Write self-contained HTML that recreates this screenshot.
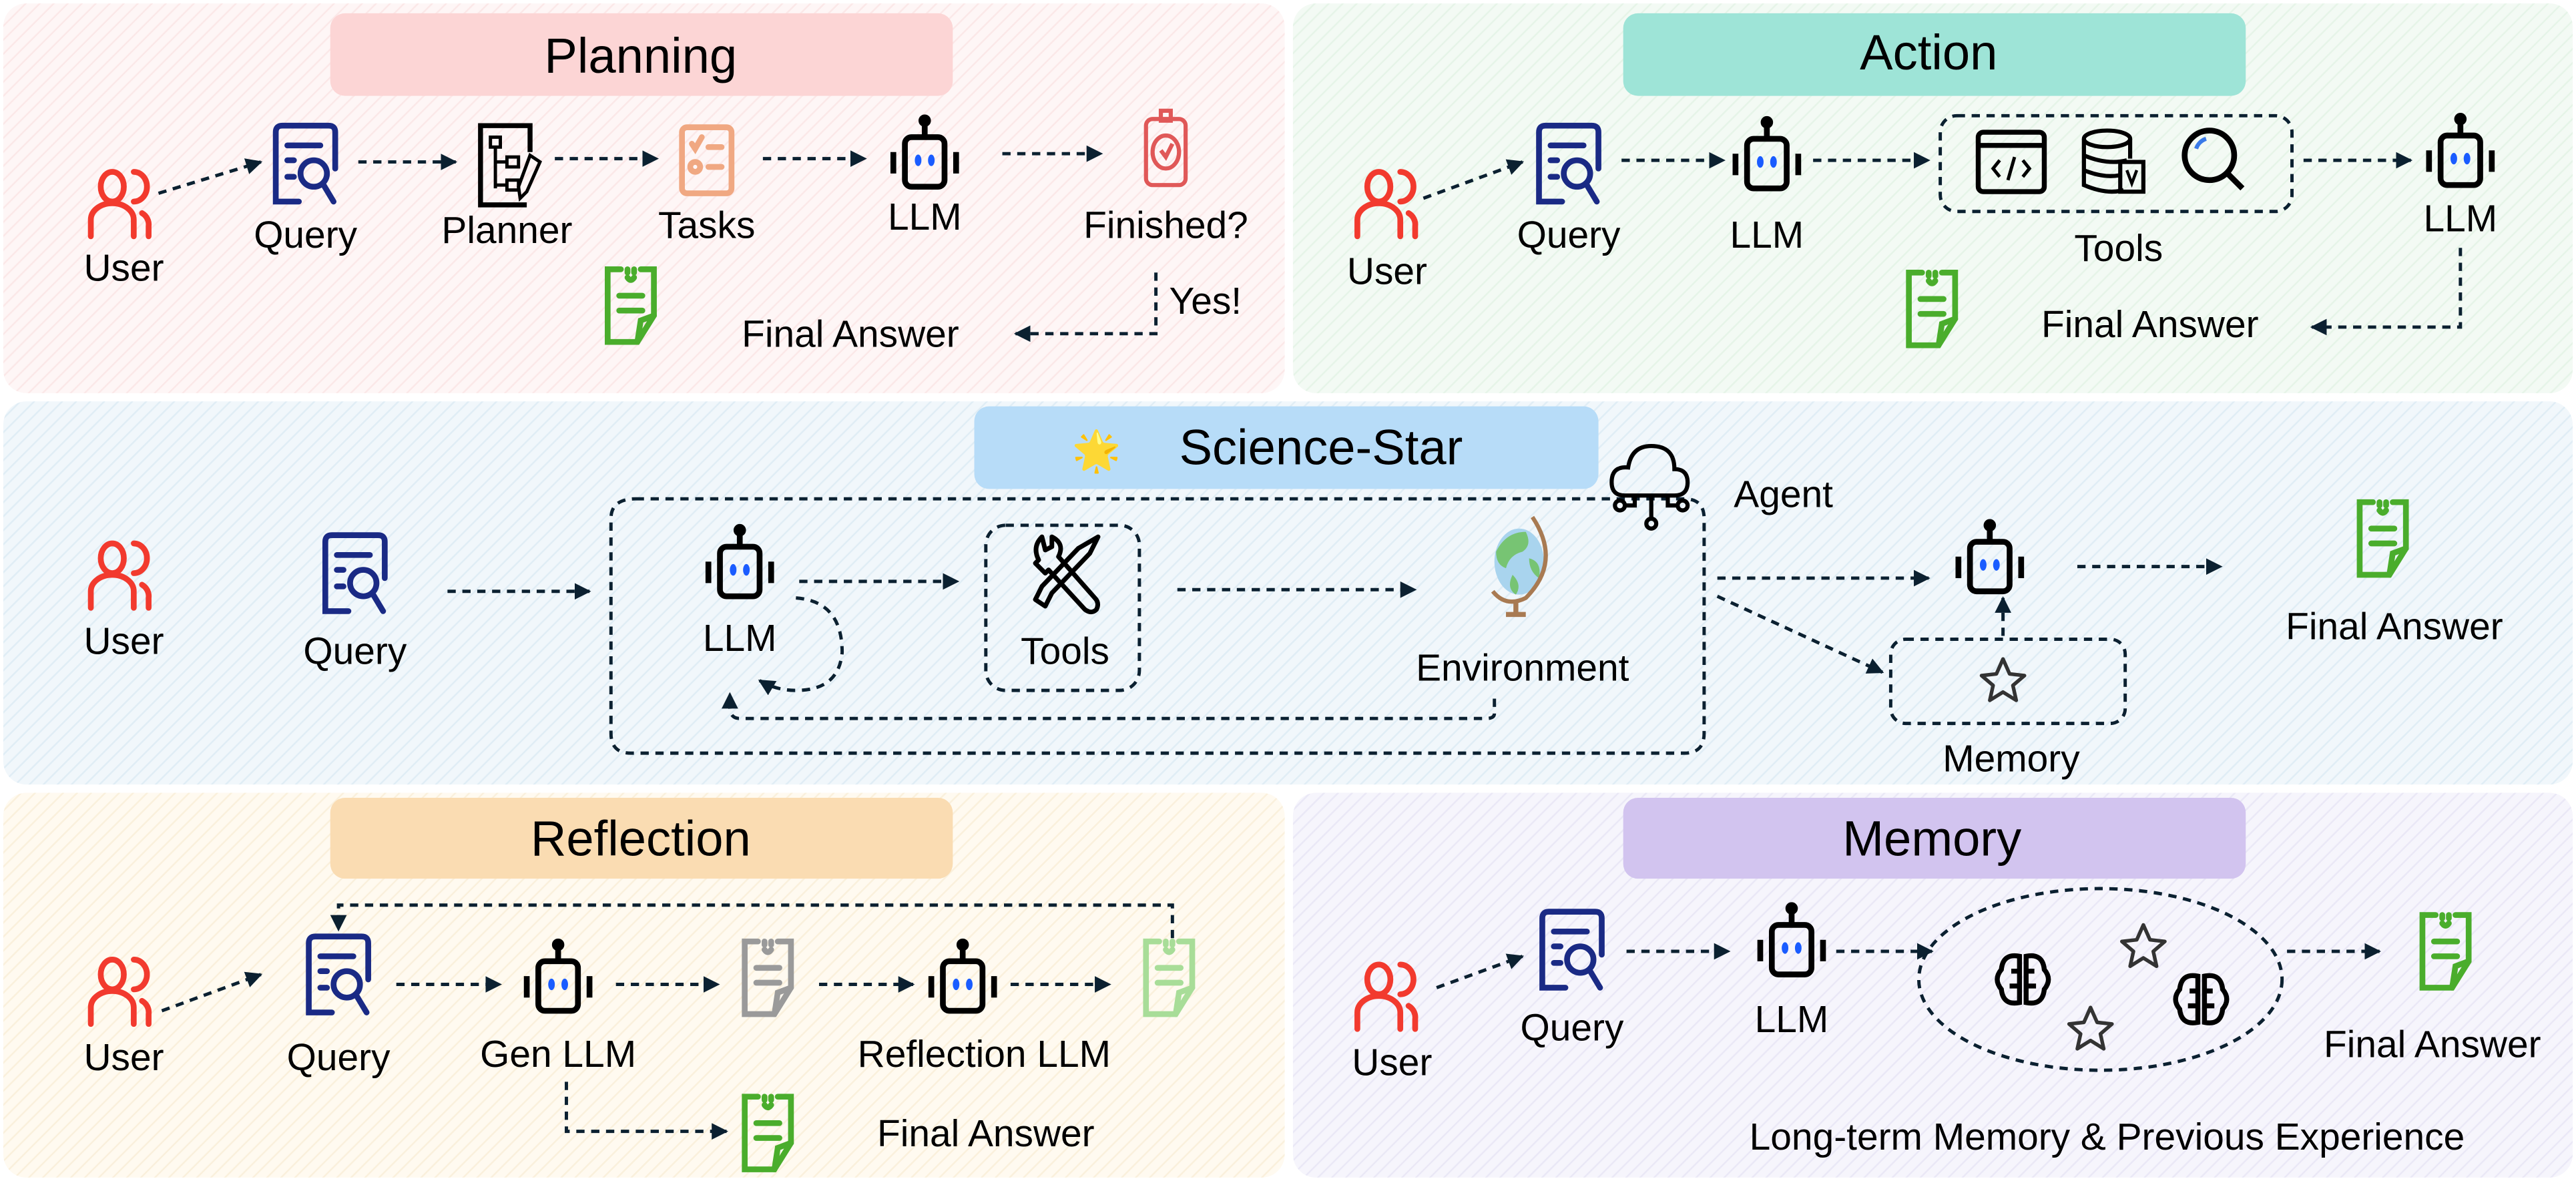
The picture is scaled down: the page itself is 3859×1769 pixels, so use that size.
<!DOCTYPE html>
<html><head><meta charset="utf-8">
<style>
html,body{margin:0;padding:0;background:#fff;}
svg{display:block;}
text{font-family:"Liberation Sans",sans-serif;fill:#000;text-anchor:middle;}
.lb{font-size:23px;}
.tt{font-size:30px;}
.d{fill:none;stroke:#0b2030;stroke-width:2;stroke-dasharray:5 4;}
</style></head><body>
<svg width="3859" height="1769" viewBox="0 0 1560 715" xmlns="http://www.w3.org/2000/svg">
<defs>
<marker id="ah" viewBox="0 0 10 10" refX="9" refY="5" markerWidth="5" markerHeight="5" orient="auto-start-reverse" markerUnits="strokeWidth"><path d="M0,0 L10,5 L0,10 Z" fill="#0b2030"/></marker>
<pattern id="hp" width="6" height="6" patternUnits="userSpaceOnUse" patternTransform="rotate(45)"><rect width="6" height="6" fill="#fef6f6"/><line x1="0" y1="0" x2="0" y2="6" stroke="#fbe8e8" stroke-width="2"/></pattern>
<pattern id="hg" width="6" height="6" patternUnits="userSpaceOnUse" patternTransform="rotate(45)"><rect width="6" height="6" fill="#f3faf4"/><line x1="0" y1="0" x2="0" y2="6" stroke="#e6f4e8" stroke-width="2"/></pattern>
<pattern id="hb" width="6" height="6" patternUnits="userSpaceOnUse" patternTransform="rotate(45)"><rect width="6" height="6" fill="#f1f7fb"/><line x1="0" y1="0" x2="0" y2="6" stroke="#e0edf5" stroke-width="2"/></pattern>
<pattern id="hy" width="6" height="6" patternUnits="userSpaceOnUse" patternTransform="rotate(45)"><rect width="6" height="6" fill="#fffaf0"/><line x1="0" y1="0" x2="0" y2="6" stroke="#faf0dc" stroke-width="2"/></pattern>
<pattern id="hv" width="6" height="6" patternUnits="userSpaceOnUse" patternTransform="rotate(45)"><rect width="6" height="6" fill="#f6f5fc"/><line x1="0" y1="0" x2="0" y2="6" stroke="#eae8f6" stroke-width="2"/></pattern>

<g id="user" fill="none" stroke="#f23a2e" stroke-width="3.5" stroke-linecap="round">
  <ellipse cx="-5" cy="-12" rx="7" ry="9"/>
  <path d="M8,-21 A8,9 0 0 1 8,-3"/>
  <path d="M-18,18 L-18,8 A13,10 0 0 1 8,8 L8,18"/>
  <path d="M13,4 A8,8 0 0 1 17,12 L17,18"/>
</g>
<g id="query" fill="none" stroke="#1a2a85" stroke-width="3.5" stroke-linecap="round">
  <path d="M-4,22 L-18,22 L-18,-20 Q-18,-24 -14,-24 L14,-24 Q18,-24 18,-20 L18,2"/>
  <line x1="-11" y1="-12" x2="9" y2="-12"/>
  <line x1="-11" y1="-3" x2="-7" y2="-3"/>
  <line x1="-11" y1="7" x2="-7" y2="7"/>
  <circle cx="5" cy="5" r="8"/>
  <line x1="11" y1="12" x2="17" y2="22"/>
</g>
<g id="robot" fill="none" stroke="#000" stroke-width="3.5">
  <line x1="0" y1="-24" x2="0" y2="-14"/>
  <circle cx="0" cy="-24" r="2" fill="#000"/>
  <rect x="-12" y="-14" width="24" height="30" rx="4"/>
  <line x1="-19" y1="-5" x2="-19" y2="8"/>
  <line x1="19" y1="-5" x2="19" y2="8"/>
  <ellipse cx="-4" cy="0" rx="2" ry="3.5" fill="#1a5cff" stroke="none"/>
  <ellipse cx="4" cy="0" rx="2" ry="3.5" fill="#1a5cff" stroke="none"/>
</g>
<g id="fa" fill="none" stroke-width="3.5" stroke-linecap="round">
  <path d="M-6,-22 L-14,-22 L-14,22 L4,22 L14,6 L14,-22 L6,-22"/>
  <path d="M-2,-22 L-2,-20 M2,-22 L2,-20 M-2,-17 Q0,-14 2,-17"/>
  <line x1="-7" y1="-6" x2="7" y2="-6"/>
  <line x1="-7" y1="3" x2="7" y2="3"/>
  <path d="M4,22 L6,9 L14,6"/>
</g>
<g id="star" fill="none" stroke="#333" stroke-width="2.2" stroke-linejoin="round">
  <path d="M0,-14 L4,-5 L13,-4 L6,2 L8,11 L0,6 L-8,11 L-6,2 L-13,-4 L-4,-5 Z"/>
</g>
<g id="brain" fill="none" stroke="#000" stroke-width="3">
  <path d="M-2,-14 Q-12,-16 -13,-6 Q-18,0 -13,6 Q-12,16 -2,14 Z"/>
  <path d="M2,-14 Q12,-16 13,-6 Q18,0 13,6 Q12,16 2,14 Z"/>
  <path d="M-7,-5 L-2,-5 M-8,4 L-2,4 M7,-5 L2,-5 M8,4 L2,4"/>
</g>
</defs>

<!-- panels -->
<rect x="2" y="2" width="776" height="236" rx="14" fill="url(#hp)"/>
<rect x="783" y="2" width="775" height="236" rx="14" fill="url(#hg)"/>
<rect x="2" y="243" width="1556" height="232" rx="14" fill="url(#hb)"/>
<rect x="2" y="480" width="776" height="233" rx="14" fill="url(#hy)"/>
<rect x="783" y="480" width="775" height="233" rx="14" fill="url(#hv)"/>

<!-- titles -->
<rect x="200" y="8" width="377" height="50" rx="9" fill="#fcd5d5"/>
<text x="388" y="44" class="tt">Planning</text>
<rect x="983" y="8" width="377" height="50" rx="9" fill="#9ee4d7"/>
<text x="1168" y="42" class="tt">Action</text>
<rect x="590" y="246" width="378" height="50" rx="9" fill="#b7dcf8"/>
<text x="664" y="281" style="font-size:24px" >🌟</text>
<text x="800" y="281" class="tt">Science-Star</text>
<rect x="200" y="483" width="377" height="49" rx="9" fill="#fadcb2"/>
<text x="388" y="518" class="tt">Reflection</text>
<rect x="983" y="483" width="377" height="49" rx="9" fill="#d2c4ef"/>
<text x="1170" y="518" class="tt">Memory</text>

<!-- ===== Planning ===== -->
<use href="#user" x="73" y="125"/>
<text x="75" y="170" class="lb">User</text>
<use href="#query" x="185" y="100"/>
<text x="185" y="150" class="lb">Query</text>
<g transform="translate(307,100)" fill="none" stroke="#000" stroke-width="3">
  <path d="M12,24 L-16,24 L-16,-24 L14,-24 L14,-8"/>
  <rect x="-10" y="-17" width="6" height="6" stroke-width="2"/>
  <path d="M-7,-11 L-7,14 M-7,-2 L0,-2 M-7,12 L0,12" stroke-width="2"/>
  <rect x="0" y="-5" width="7" height="6" stroke-width="2"/>
  <rect x="0" y="9" width="7" height="6" stroke-width="2"/>
  <path d="M14,-6 L20,-2 L12,16 L8,20 L7,13 Z" stroke-width="2"/>
</g>
<text x="307" y="147" class="lb">Planner</text>
<g transform="translate(428,97)" fill="none" stroke="#f0a882" stroke-width="3.5" stroke-linecap="round">
  <rect x="-15" y="-20" width="30" height="40" rx="3"/>
  <path d="M-9,-10 L-7,-7 L-3,-14 M1,-8 L9,-8 M1,4 L9,4"/>
  <circle cx="-7" cy="4" r="3"/>
</g>
<text x="428" y="144" class="lb">Tasks</text>
<use href="#robot" x="560" y="97"/>
<text x="560" y="139" class="lb">LLM</text>
<g transform="translate(706,88)" fill="none" stroke="#e05858" stroke-width="2.5">
  <rect x="-12" y="-16" width="24" height="40" rx="4"/>
  <rect x="-3" y="-21" width="6" height="6"/>
  <ellipse cx="0" cy="4" rx="8" ry="10"/>
  <path d="M-3,3 L0,7 L4,-1"/>
</g>
<text x="706" y="144" class="lb">Finished?</text>
<line class="d" x1="96" y1="117" x2="158" y2="98" marker-end="url(#ah)"/>
<line class="d" x1="217" y1="98" x2="276" y2="98" marker-end="url(#ah)"/>
<line class="d" x1="336" y1="96" x2="398" y2="96" marker-end="url(#ah)"/>
<line class="d" x1="462" y1="96" x2="524" y2="96" marker-end="url(#ah)"/>
<line class="d" x1="607" y1="93" x2="667" y2="93" marker-end="url(#ah)"/>
<path class="d" d="M700,165 L700,202 L615,202" marker-end="url(#ah)"/>
<text x="730" y="190" class="lb">Yes!</text>
<use href="#fa" x="382" y="185" stroke="#4aad2c"/>
<text x="515" y="210" class="lb">Final Answer</text>

<!-- ===== Action ===== -->
<use href="#user" x="840" y="125"/>
<text x="840" y="172" class="lb">User</text>
<use href="#query" x="950" y="100"/>
<text x="950" y="150" class="lb">Query</text>
<use href="#robot" x="1070" y="98"/>
<text x="1070" y="150" class="lb">LLM</text>
<line class="d" x1="862" y1="120" x2="922" y2="98" marker-end="url(#ah)"/>
<line class="d" x1="982" y1="97" x2="1044" y2="97" marker-end="url(#ah)"/>
<line class="d" x1="1098" y1="97" x2="1168" y2="97" marker-end="url(#ah)"/>
<line class="d" x1="1395" y1="97" x2="1460" y2="97" marker-end="url(#ah)"/>
<rect class="d" x="1175" y="70" width="213" height="58" rx="10"/>
<g transform="translate(1218,98)" fill="none" stroke="#000" stroke-width="3">
  <rect x="-20" y="-18" width="40" height="36" rx="3"/>
  <line x1="-20" y1="-10" x2="20" y2="-10"/>
  <path d="M-7,-1 L-11,4 L-7,9 M7,-1 L11,4 L7,9 M2,-3 L-2,11" stroke-width="2"/>
</g>
<g transform="translate(1280,98)" fill="none" stroke="#000" stroke-width="2.5">
  <ellipse cx="-4" cy="-14" rx="14" ry="5"/>
  <path d="M-18,-14 L-18,14 Q-4,20 6,17 M10,-14 L10,-2 M-18,-4 Q-4,2 8,-1 M-18,5 Q-6,10 4,8"/>
  <rect x="4" y="0" width="14" height="18"/>
  <path d="M8,5 L11,13 L14,5" stroke-width="1.8"/>
</g>
<g transform="translate(1340,96)" fill="none" stroke="#000" stroke-width="3.5">
  <circle cx="-2" cy="-2" r="15"/>
  <line x1="9" y1="9" x2="18" y2="18"/>
  <path d="M-10,-6 A9,9 0 0 1 -4,-12" stroke="#3a7ae8" stroke-width="2.5"/>
</g>
<text x="1283" y="158" class="lb">Tools</text>
<use href="#robot" x="1490" y="96"/>
<text x="1490" y="140" class="lb">LLM</text>
<path class="d" d="M1490,150 L1490,198 L1400,198" marker-end="url(#ah)"/>
<use href="#fa" x="1170" y="187" stroke="#4aad2c"/>
<text x="1302" y="204" class="lb">Final Answer</text>

<!-- ===== Science-Star ===== -->
<use href="#user" x="73" y="350"/>
<text x="75" y="396" class="lb">User</text>
<use href="#query" x="215" y="348"/>
<text x="215" y="402" class="lb">Query</text>
<line class="d" x1="271" y1="358" x2="357" y2="358" marker-end="url(#ah)"/>
<path class="d" d="M385,302 L1020,302 Q1032,302 1032,314 L1032,444 Q1032,456 1020,456 L382,456 Q370,456 370,444 L370,314 Q370,302 385,302 Z"/>
<use href="#robot" x="448" y="345"/>
<text x="448" y="394" class="lb">LLM</text>
<line class="d" x1="484" y1="352" x2="580" y2="352" marker-end="url(#ah)"/>
<path class="d" d="M482,362 Q510,364 510,395 Q508,418 482,418 Q470,418 460,412" marker-end="url(#ah)"/>
<rect class="d" x="597" y="318" width="93" height="100" rx="12"/>
<g transform="translate(645,345)" fill="none" stroke="#000" stroke-width="2.8" stroke-linejoin="round">
  <path d="M-14,-20 Q-20,-14 -16,-6 L-18,-4 L-12,2 L-10,0 L12,24 Q16,27 19,24 Q21,20 18,17 L-4,-8 Q0,-16 -8,-20 L-8,-14 L-12,-12 Z"/>
  <path d="M20,-20 L15,-10 L-8,14 L-12,22 L-18,18 L-14,10 L8,-13 Z"/>
</g>
<text x="645" y="402" class="lb">Tools</text>
<line class="d" x1="713" y1="357" x2="857" y2="357" marker-end="url(#ah)"/>
<g transform="translate(920,340)">
  <ellipse cx="0" cy="0" rx="15" ry="20" fill="#a9d4ee"/>
  <path d="M-14,-6 Q-8,-18 4,-18 Q8,-10 2,-6 Q-6,-4 -8,4 Q-14,2 -14,-6 Z M6,-2 Q14,0 12,10 Q6,6 6,-2 Z M-4,8 Q2,14 -2,20 Q-8,16 -4,8 Z" fill="#77c473"/>
  <path d="M8,-27 Q26,0 4,22 Q-8,28 -16,18" fill="none" stroke="#a87a52" stroke-width="2.5"/>
  <path d="M-2,24 L-2,32 M-8,32 L4,32" stroke="#a87a52" stroke-width="3"/>
</g>
<text x="922" y="412" class="lb">Environment</text>
<path class="d" d="M905,423 L905,432 Q905,435 900,435 L448,435 Q442,435 442,428 L442,420" marker-end="url(#ah)"/>
<g transform="translate(1000,292)" fill="none" stroke="#000" stroke-width="2.5">
  <path d="M-16,8 Q-24,8 -24,0 Q-24,-10 -14,-9 Q-12,-22 0,-22 Q14,-22 14,-8 Q22,-8 22,0 Q22,8 14,8 Z"/>
  <path d="M0,8 L0,22 M-10,8 L-10,14 L-16,14 M10,8 L10,14 L16,14"/>
  <circle cx="0" cy="25" r="3"/><circle cx="-19" cy="14" r="3"/><circle cx="19" cy="14" r="3"/>
</g>
<text x="1080" y="307" class="lb">Agent</text>
<line class="d" x1="1040" y1="350" x2="1168" y2="350" marker-end="url(#ah)"/>
<line class="d" x1="1040" y1="361" x2="1140" y2="407" marker-end="url(#ah)"/>
<use href="#robot" x="1205" y="342"/>
<rect class="d" x="1145" y="387" width="142" height="51" rx="9"/>
<use href="#star" x="1213" y="413"/>
<line class="d" x1="1213" y1="385" x2="1213" y2="362" marker-end="url(#ah)"/>
<text x="1218" y="467" class="lb">Memory</text>
<line class="d" x1="1258" y1="343" x2="1345" y2="343" marker-end="url(#ah)"/>
<use href="#fa" x="1443" y="326" stroke="#4aad2c"/>
<text x="1450" y="387" class="lb">Final Answer</text>

<!-- ===== Reflection ===== -->
<use href="#user" x="73" y="602"/>
<text x="75" y="648" class="lb">User</text>
<use href="#query" x="205" y="591"/>
<text x="205" y="648" class="lb">Query</text>
<path class="d" d="M710,568 L710,548 L205,548 L205,563" marker-end="url(#ah)"/>
<line class="d" x1="98" y1="612" x2="158" y2="590" marker-end="url(#ah)"/>
<line class="d" x1="240" y1="596" x2="303" y2="596" marker-end="url(#ah)"/>
<use href="#robot" x="338" y="596"/>
<text x="338" y="646" class="lb">Gen LLM</text>
<line class="d" x1="373" y1="596" x2="435" y2="596" marker-end="url(#ah)"/>
<use href="#fa" x="465" y="592" stroke="#9a9a9a"/>
<line class="d" x1="496" y1="596" x2="553" y2="596" marker-end="url(#ah)"/>
<use href="#robot" x="583" y="596"/>
<text x="596" y="646" class="lb">Reflection LLM</text>
<line class="d" x1="612" y1="596" x2="672" y2="596" marker-end="url(#ah)"/>
<use href="#fa" x="708" y="592" stroke="#a8dd98"/>
<path class="d" d="M343,655 L343,685 L440,685" marker-end="url(#ah)"/>
<use href="#fa" x="465" y="686" stroke="#4aad2c"/>
<text x="597" y="694" class="lb">Final Answer</text>

<!-- ===== Memory ===== -->
<use href="#user" x="840" y="605"/>
<text x="843" y="651" class="lb">User</text>
<use href="#query" x="952" y="576"/>
<text x="952" y="630" class="lb">Query</text>
<line class="d" x1="870" y1="598" x2="922" y2="579" marker-end="url(#ah)"/>
<line class="d" x1="985" y1="576" x2="1047" y2="576" marker-end="url(#ah)"/>
<use href="#robot" x="1085" y="574"/>
<text x="1085" y="625" class="lb">LLM</text>
<line class="d" x1="1112" y1="576" x2="1170" y2="576" marker-end="url(#ah)"/>
<ellipse class="d" cx="1272" cy="593" rx="110" ry="55"/>
<use href="#brain" x="1225" y="593"/>
<use href="#brain" x="1333" y="605"/>
<use href="#star" x="1298" y="574"/>
<use href="#star" x="1266" y="624"/>
<line class="d" x1="1385" y1="576" x2="1441" y2="576" marker-end="url(#ah)"/>
<use href="#fa" x="1481" y="576" stroke="#4aad2c"/>
<text x="1473" y="640" class="lb">Final Answer</text>
<text x="1276" y="696" class="lb">Long-term Memory &amp; Previous Experience</text>
</svg>
</body></html>
